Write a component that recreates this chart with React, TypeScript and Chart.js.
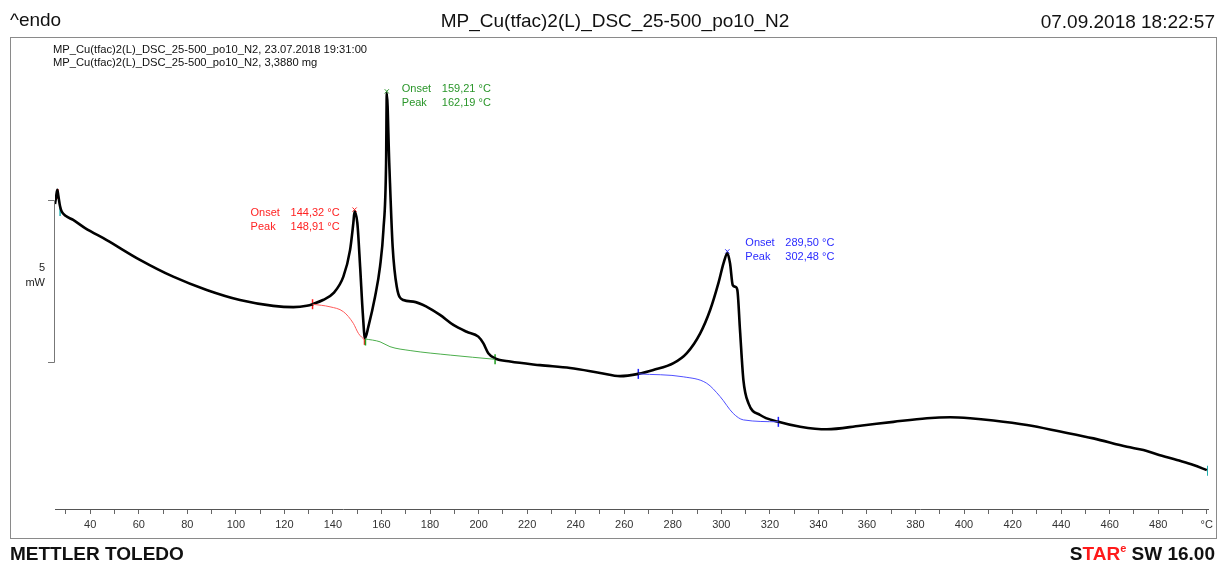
import React, { useEffect, useRef } from 'react';
import { Chart, registerables } from 'chart.js';

Chart.register(...registerables);

// DSC curve: temperature (°C) and heat flow (mW, arbitrary origin), endo up
const temperatureC = [25.5, 26.0, 26.45, 26.9, 27.56, 28.26, 30.0, 33.0, 37.9, 46.8, 60.5, 74.2, 88.0, 101.7, 115.4, 123.7, 129.2, 131.9, 135.9, 140.2, 144.3, 147.05, 148.4, 148.91, 150.06, 151.2, 152.3, 153.2, 154.6, 157.35, 159.4, 160.8, 161.9, 162.19, 163.2, 164.6, 166.3, 169.0, 173.1, 178.7, 184.1, 189.6, 195.1, 199.9, 202.0, 204.0, 206.8, 213.0, 225.3, 237.7, 250.1, 258.3, 265.8, 272.0, 280.3, 285.8, 291.3, 295.4, 298.8, 300.9, 302.48, 303.6, 304.7, 305.7, 306.6, 307.7, 309.1, 311.2, 316.0, 323.5, 332.5, 343.5, 357.2, 370.9, 384.7, 394.3, 402.5, 412.1, 425.9, 439.6, 453.3, 467.1, 473.9, 479.4, 487.7, 494.5, 500.0];
const heatFlowMw = [9.41, 9.66, 9.85, 9.66, 9.35, 9.18, 9.04, 8.92, 8.67, 8.30, 7.69, 7.17, 6.76, 6.45, 6.27, 6.23, 6.27, 6.33, 6.45, 6.66, 7.17, 7.99, 8.82, 9.18, 8.82, 7.48, 6.04, 5.27, 5.63, 6.55, 7.48, 8.61, 10.68, 12.83, 10.68, 8.10, 6.86, 6.45, 6.40, 6.24, 5.99, 5.68, 5.47, 5.32, 5.11, 4.81, 4.65, 4.55, 4.44, 4.35, 4.20, 4.10, 4.17, 4.29, 4.50, 4.81, 5.42, 6.14, 6.97, 7.58, 7.89, 7.58, 6.91, 6.86, 6.76, 5.52, 3.98, 3.26, 2.90, 2.69, 2.54, 2.46, 2.57, 2.69, 2.80, 2.83, 2.80, 2.73, 2.59, 2.39, 2.18, 1.92, 1.82, 1.69, 1.51, 1.36, 1.20];

// integration baselines
const redBaseT = [131.6, 138.8, 144.3, 148.4, 150.5, 153.0];
const redBaseMw = [6.32, 6.24, 6.09, 5.73, 5.42, 5.22];
const greenBaseT = [153.2, 159.4, 163.5, 171.8, 188.3, 206.8];
const greenBaseMw = [5.25, 5.16, 5.01, 4.89, 4.75, 4.62];
const blueBaseT = [265.8, 284.3, 294.0, 299.5, 304.9, 309.1, 323.5];
const blueBaseMw = [4.17, 4.08, 3.88, 3.47, 2.95, 2.75, 2.69];

// limit markers
const limitT = [26.7, 27.6, 131.6, 153.0, 153.4, 206.8, 265.8, 323.5, 500.4];
const limitMw = [9.72, 9.2, 6.32, 5.22, 5.2, 4.62, 4.17, 2.69, 1.18];
const limitColors = ['#ff2020', '#20b0b0', '#ff2020', '#ff2020', '#20a020', '#20a020', '#2020ff', '#2020ff', '#20b0b0'];

// evaluations
const evalNames = ['red', 'green', 'blue'];
const evalOnset = ['144,32', '159,21', '289,50'];
const evalPeakT = [148.91, 162.19, 302.48];
const evalPeakMw = [9.18, 12.83, 7.89];
const evalColors = ['#ff2222', '#2a962a', '#2b2bff'];

const xTickValues = [30, 40, 50, 60, 70, 80, 90, 100, 110, 120, 130, 140, 150, 160, 170, 180, 190, 200, 210, 220, 230, 240, 250, 260, 270, 280, 290, 300, 310, 320, 330, 340, 350, 360, 370, 380, 390, 400, 410, 420, 430, 440, 450, 460, 470, 480, 490, 500];
const xLabelled = [40, 60, 80, 100, 120, 140, 160, 180, 200, 220, 240, 260, 280, 300, 320, 340, 360, 380, 400, 420, 440, 460, 480];
const xUnitLabel = '°C';

const scaleBarBaseMw = 4.54;
const scaleBarSpanMw = 5;

const zip = (a: number[], b: number[]) => a.map((v, i) => ({ x: v, y: b[i] }));

const SANS = '"Liberation Sans", Arial, sans-serif';

const overlay = {
  id: 'overlay',
  afterDraw(chart: any) {
    const ctx = chart.ctx as CanvasRenderingContext2D;
    const xs = chart.scales.x;
    const ys = chart.scales.y;
    ctx.save();
    // frame
    ctx.strokeStyle = '#8a8a8a';
    ctx.lineWidth = 1;
    ctx.strokeRect(10.5, 37.5, 1206, 501);

    // header
    ctx.fillStyle = '#111';
    ctx.textBaseline = 'alphabetic';
    ctx.font = `19px ${SANS}`;
    ctx.textAlign = 'left';
    ctx.fillText('^endo', 10, 26);
    ctx.textAlign = 'center';
    ctx.fillText('MP_Cu(tfac)2(L)_DSC_25-500_po10_N2', 615, 27);
    ctx.textAlign = 'right';
    ctx.fillText('07.09.2018 18:22:57', 1215, 28);

    // subheader
    ctx.font = `11.2px ${SANS}`;
    ctx.textAlign = 'left';
    ctx.fillText('MP_Cu(tfac)2(L)_DSC_25-500_po10_N2, 23.07.2018 19:31:00', 53, 53);
    ctx.fillText('MP_Cu(tfac)2(L)_DSC_25-500_po10_N2, 3,3880 mg', 53, 66);

    // footer
    ctx.font = `bold 19px ${SANS}`;
    ctx.textAlign = 'left';
    ctx.fillStyle = '#111';
    ctx.fillText('METTLER TOLEDO', 10, 560);
    const parts: [string, string, string][] = [
      ['S', '#111', `bold 19px ${SANS}`],
      ['TAR', '#ff1a1a', `bold 19px ${SANS}`],
      ['e', '#ff1a1a', `bold 11px ${SANS}`],
      [' SW 16.00', '#111', `bold 19px ${SANS}`],
    ];
    let total = 0;
    const widths = parts.map(([t, , f]) => {
      ctx.font = f;
      const w = ctx.measureText(t).width;
      total += w;
      return w;
    });
    let cx = 1215 - total;
    parts.forEach(([t, c, f], i) => {
      ctx.font = f;
      ctx.fillStyle = c;
      ctx.fillText(t, cx, t === 'e' ? 552 : 560);
      cx += widths[i];
    });

    // scale bar
    const sx = 54.5;
    const yTop = Math.round(ys.getPixelForValue(scaleBarBaseMw + scaleBarSpanMw)) + 0.5;
    const yBot = Math.round(ys.getPixelForValue(scaleBarBaseMw)) + 0.5;
    ctx.strokeStyle = '#777';
    ctx.beginPath();
    ctx.moveTo(sx, yTop);
    ctx.lineTo(sx, yBot);
    ctx.moveTo(48, yTop);
    ctx.lineTo(sx, yTop);
    ctx.moveTo(48, yBot);
    ctx.lineTo(sx, yBot);
    ctx.stroke();
    ctx.fillStyle = '#222';
    ctx.font = `11px ${SANS}`;
    ctx.textAlign = 'right';
    ctx.fillText(String(scaleBarSpanMw), 45, 271);
    ctx.fillText('mW', 45, 286);

    // evaluation labels
    const offsets = [
      [-104, 4],
      [15, -1],
      [18, -7],
    ];
    ctx.font = `11px ${SANS}`;
    ctx.textAlign = 'left';
    evalNames.forEach((_, i) => {
      const px = xs.getPixelForValue(evalPeakT[i]);
      const py = ys.getPixelForValue(evalPeakMw[i]);
      const lx = px + offsets[i][0];
      const ly = py + offsets[i][1];
      ctx.fillStyle = evalColors[i];
      ctx.fillText('Onset', lx, ly);
      ctx.fillText(evalOnset[i] + ' °C', lx + 40, ly);
      ctx.fillText('Peak', lx, ly + 14);
      ctx.fillText(evalPeakT[i].toFixed(2).replace('.', ',') + ' °C', lx + 40, ly + 14);
    });
    ctx.restore();
  },
};

export default function App() {
  const ref = useRef<HTMLCanvasElement>(null);
  useEffect(() => {
    const canvas = ref.current!;
    const chart = new Chart(canvas, {
      type: 'line',
      data: {
        datasets: [
          {
            label: 'red baseline',
            data: zip(redBaseT, redBaseMw),
            borderColor: '#ff5a5a',
            borderWidth: 1,
            pointRadius: 0,
            cubicInterpolationMode: 'monotone',
          },
          {
            label: 'green baseline',
            data: zip(greenBaseT, greenBaseMw),
            borderColor: '#4cae4c',
            borderWidth: 1,
            pointRadius: 0,
            cubicInterpolationMode: 'monotone',
          },
          {
            label: 'blue baseline',
            data: zip(blueBaseT, blueBaseMw),
            borderColor: '#5050ff',
            borderWidth: 1,
            pointRadius: 0,
            cubicInterpolationMode: 'monotone',
          },
          {
            label: 'DSC',
            data: zip(temperatureC, heatFlowMw),
            borderColor: '#000',
            borderWidth: 2.6,
            pointRadius: 0,
            cubicInterpolationMode: 'monotone',
          },
          {
            label: 'limits',
            data: zip(limitT, limitMw),
            showLine: false,
            pointStyle: 'line',
            rotation: 90,
            pointRadius: 5,
            pointBorderWidth: 1.5,
            pointBorderColor: limitColors,
            pointBackgroundColor: limitColors,
          },
          {
            label: 'peaks',
            data: zip(evalPeakT, evalPeakMw.map((v) => v + 0.06)),
            showLine: false,
            pointStyle: 'crossRot',
            pointRadius: 3,
            pointBorderWidth: 1,
            pointBorderColor: evalColors,
          },
        ] as any,
      },
      options: {
        animation: false,
        responsive: false,
        devicePixelRatio: 1,
        layout: { padding: { left: 55, right: 12, top: 41, bottom: 23 } },
        plugins: { legend: { display: false }, tooltip: { enabled: false } },
        scales: {
          x: {
            type: 'linear',
            min: 25.5,
            max: 500.5,
            afterBuildTicks: (scale: any) => {
              scale.ticks = xTickValues.map((v) => ({ value: v }));
            },
            afterFit: (scale: any) => {
              scale.height = 30;
            },
            ticks: {
              autoSkip: false,
              maxRotation: 0,
              padding: 4,
              color: '#333',
              font: { family: SANS, size: 11 },
              callback: (v: any) => {
                const n = Number(v);
                if (n === 500) return xUnitLabel;
                return xLabelled.includes(n) ? String(n) : '';
              },
            },
            grid: {
              drawOnChartArea: false,
              drawTicks: true,
              tickLength: 5,
              color: '#666',
            },
            border: { display: true, color: '#555', width: 1 },
          },
          y: {
            type: 'linear',
            display: false,
            min: 0,
            max: 14.444,
          },
        },
      },
      plugins: [overlay],
    } as any);
    return () => chart.destroy();
  }, []);
  return (
    <div style={{ position: 'fixed', left: 0, top: 0, width: 1220, height: 562, background: '#fff' }}>
      <canvas ref={ref} width={1220} height={562} style={{ width: 1220, height: 562, display: 'block' }} />
    </div>
  );
}
